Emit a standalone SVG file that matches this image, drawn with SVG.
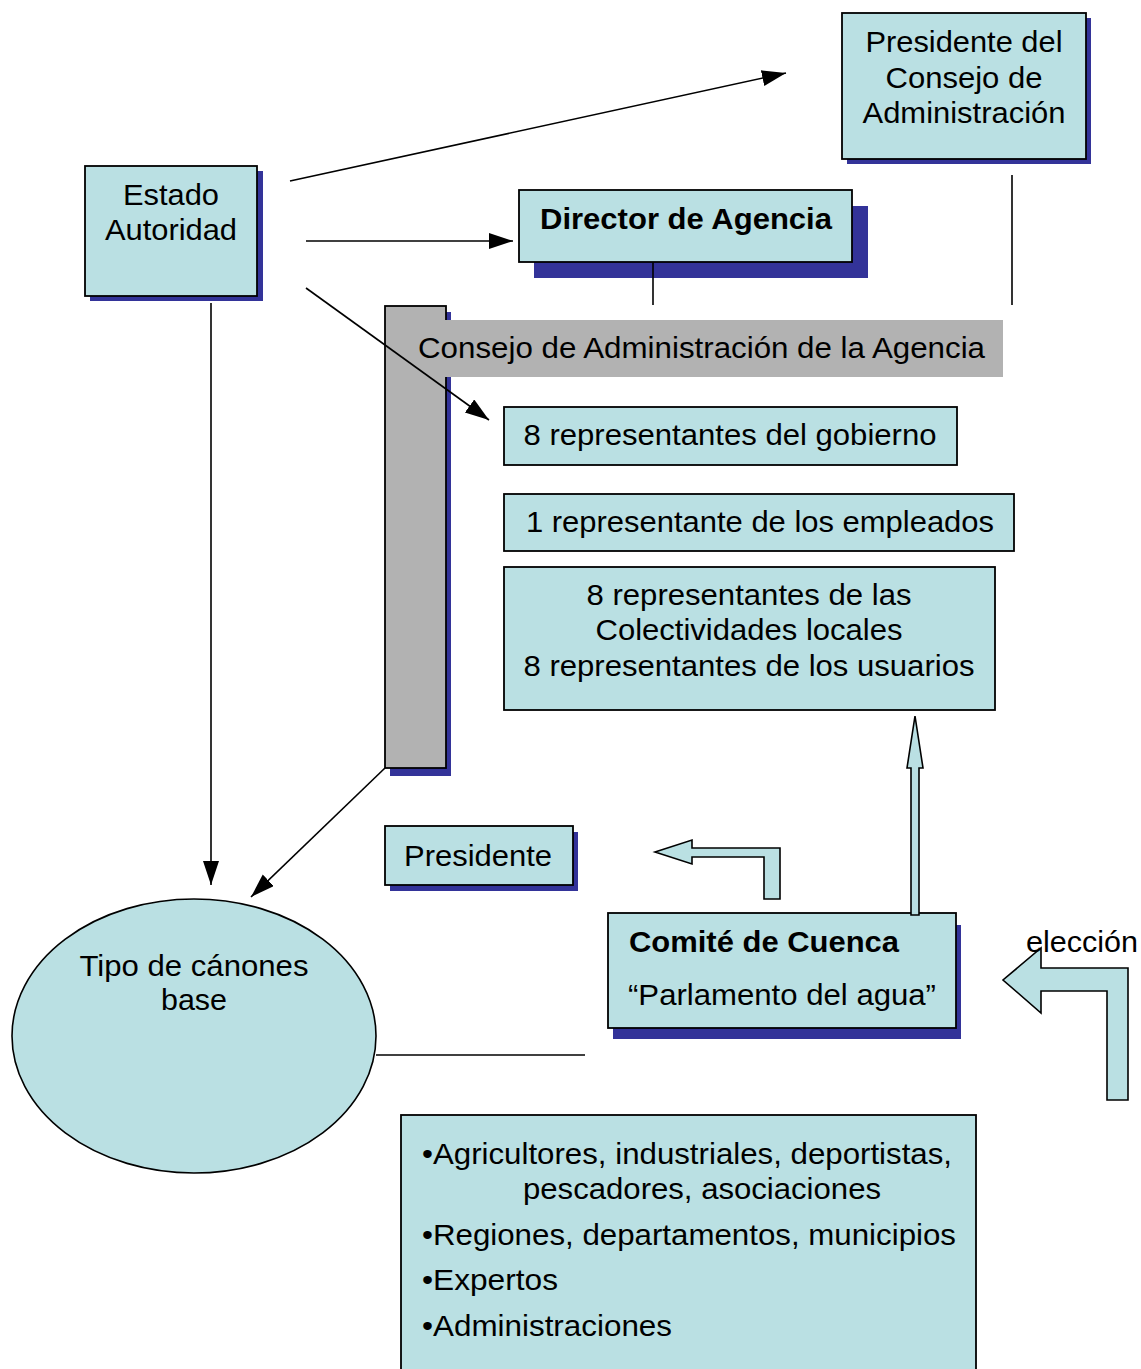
<svg xmlns="http://www.w3.org/2000/svg" width="1141" height="1369" viewBox="0 0 1141 1369">
  <defs>
    <style>
      .box { fill: #bae0e3; stroke: #000; stroke-width: 1.8; }
      .shadow { fill: #333399; }
      .gray { fill: #b2b2b2; }
      .t { font-family: "Liberation Sans", Arial, sans-serif; font-size: 29px; fill: #000; }
      .c { text-anchor: middle; }
      .b { font-weight: bold; }
      .link { stroke: #000; stroke-width: 1.6; fill: none; }
      .block { fill: #bae0e3; stroke: #000; stroke-width: 1.6; stroke-linejoin: miter; }
    </style>
    <marker id="head" markerUnits="userSpaceOnUse" markerWidth="26" markerHeight="18" refX="24" refY="8" orient="auto">
      <path d="M0,0 L24,8 L0,16 Z" fill="#000"/>
    </marker>
  </defs>

  <rect width="1141" height="1369" fill="#fff"/>

  <!-- Presidente del Consejo de Administración -->
  <g id="presidente-consejo">
    <rect class="shadow" x="847" y="18" width="244" height="146"/>
    <rect class="box" x="842" y="13" width="244" height="146"/>
    <text class="t c" x="964" y="52" textLength="197" lengthAdjust="spacingAndGlyphs">Presidente del</text>
    <text class="t c" x="964" y="88" textLength="157" lengthAdjust="spacingAndGlyphs">Consejo de</text>
    <text class="t c" x="964" y="123" textLength="203" lengthAdjust="spacingAndGlyphs">Administración</text>
  </g>

  <!-- Estado / Autoridad -->
  <g id="estado">
    <rect class="shadow" x="90" y="171" width="173" height="130"/>
    <rect class="box" x="85" y="166" width="172" height="130"/>
    <text class="t c" x="171" y="205" textLength="96" lengthAdjust="spacingAndGlyphs">Estado</text>
    <text class="t c" x="171" y="240" textLength="132" lengthAdjust="spacingAndGlyphs">Autoridad</text>
  </g>

  <!-- Director de Agencia -->
  <g id="director">
    <rect class="shadow" x="534" y="206" width="334" height="72"/>
    <rect class="box" x="519" y="190" width="333" height="72"/>
    <text class="t b c" x="686" y="229" textLength="292" lengthAdjust="spacingAndGlyphs">Director de Agencia</text>
  </g>

  <!-- Consejo de Administración de la Agencia (vertical bar + banner) -->
  <g id="consejo">
    <rect class="shadow" x="390" y="312" width="61" height="464"/>
    <rect class="gray" x="385" y="306" width="61" height="462" stroke="#000" stroke-width="1.8"/>
    <rect class="gray" x="390" y="320" width="613" height="57"/>
    <text class="t" x="418" y="358" textLength="567" lengthAdjust="spacingAndGlyphs">Consejo de Administración de la Agencia</text>
  </g>

  <g id="rep-gobierno">
    <rect class="box" x="504" y="407" width="453" height="58"/>
    <text class="t c" x="730" y="445" textLength="413" lengthAdjust="spacingAndGlyphs">8 representantes del gobierno</text>
  </g>

  <g id="rep-empleados">
    <rect class="box" x="504" y="494" width="510" height="57"/>
    <text class="t c" x="760" y="532" textLength="468" lengthAdjust="spacingAndGlyphs">1 representante de los empleados</text>
  </g>

  <g id="rep-colectividades">
    <rect class="box" x="504" y="567" width="491" height="143"/>
    <text class="t c" x="749" y="605" textLength="325" lengthAdjust="spacingAndGlyphs">8 representantes de las</text>
    <text class="t c" x="749" y="640" textLength="307" lengthAdjust="spacingAndGlyphs">Colectividades locales</text>
    <text class="t c" x="749" y="676" textLength="451" lengthAdjust="spacingAndGlyphs">8 representantes de los usuarios</text>
  </g>

  <g id="presidente">
    <rect class="shadow" x="390" y="832" width="188" height="59"/>
    <rect class="box" x="385" y="826" width="188" height="59"/>
    <text class="t c" x="478" y="866" textLength="148" lengthAdjust="spacingAndGlyphs">Presidente</text>
  </g>

  <g id="comite">
    <rect class="shadow" x="613" y="925" width="348" height="114"/>
    <rect class="box" x="608" y="913" width="348" height="115"/>
    <text class="t b" x="629" y="952" textLength="270" lengthAdjust="spacingAndGlyphs">Comité de Cuenca</text>
    <text class="t" x="628" y="1005" textLength="308" lengthAdjust="spacingAndGlyphs">“Parlamento del agua”</text>
  </g>

  <g id="canones">
    <ellipse cx="194" cy="1036" rx="182" ry="137" fill="#bae0e3" stroke="#000" stroke-width="1.6"/>
    <text class="t c" x="194" y="976" textLength="229" lengthAdjust="spacingAndGlyphs">Tipo de cánones</text>
    <text class="t c" x="194" y="1010" textLength="66" lengthAdjust="spacingAndGlyphs">base</text>
  </g>

  <g id="miembros">
    <rect class="box" x="401" y="1115" width="575" height="270"/>
    <text class="t" x="422" y="1164" textLength="530" lengthAdjust="spacingAndGlyphs">•Agricultores, industriales, deportistas,</text>
    <text class="t c" x="702" y="1199" textLength="358" lengthAdjust="spacingAndGlyphs">pescadores, asociaciones</text>
    <text class="t" x="422" y="1245" textLength="534" lengthAdjust="spacingAndGlyphs">•Regiones, departamentos, municipios</text>
    <text class="t" x="422" y="1290" textLength="136" lengthAdjust="spacingAndGlyphs">•Expertos</text>
    <text class="t" x="422" y="1336" textLength="250" lengthAdjust="spacingAndGlyphs">•Administraciones</text>
  </g>

  <!-- Connectors -->
  <g id="connectors">
    <line class="link" x1="290" y1="181" x2="786" y2="73" marker-end="url(#head)"/>
    <line class="link" x1="306" y1="241" x2="513" y2="241" marker-end="url(#head)"/>
    <line class="link" x1="306" y1="288" x2="489" y2="420" marker-end="url(#head)"/>
    <line class="link" x1="211" y1="303" x2="211" y2="885" marker-end="url(#head)"/>
    <line class="link" x1="385" y1="768" x2="251" y2="897" marker-end="url(#head)"/>
    <line class="link" x1="1012" y1="175" x2="1012" y2="305"/>
    <line class="link" x1="653" y1="262" x2="653" y2="305"/>
    <line class="link" x1="376" y1="1055" x2="585" y2="1055"/>
    <!-- block arrows -->
    <path class="block" d="M911,915 L911,768 L907,768 L915,716 L923,768 L919,768 L919,915 Z"/>
    <path class="block" d="M780,899 L764,899 L764,857 L692,857 L692,864 L655,852 L692,840 L692,848 L780,848 Z"/>
    <path class="block" d="M1128,1100 L1107,1100 L1107,991 L1041,991 L1041,1013 L1003,980 L1041,948 L1041,968 L1128,968 Z"/>
    <text class="t" x="1026" y="952" textLength="112" lengthAdjust="spacingAndGlyphs">elección</text>
  </g>
</svg>
